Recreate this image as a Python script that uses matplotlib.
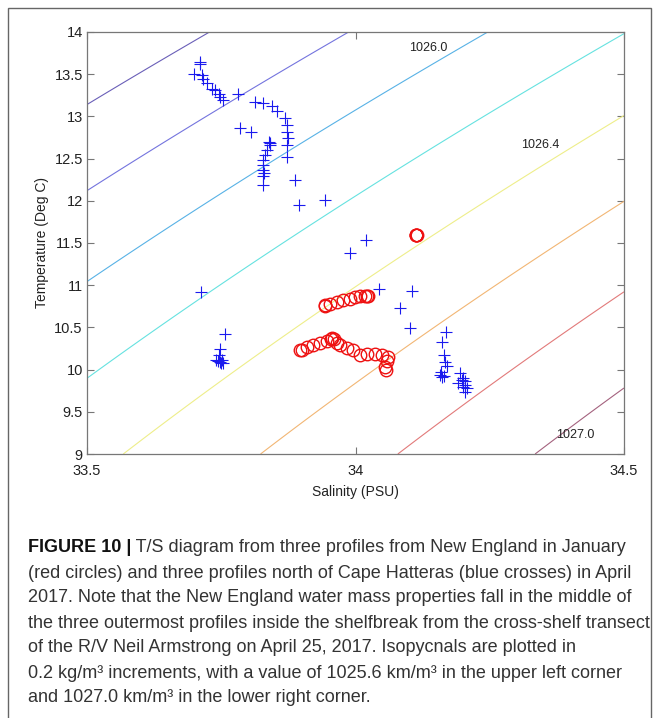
import numpy as np
import matplotlib
matplotlib.use('Agg')
from matplotlib import pyplot as plt
from matplotlib.patches import Rectangle

# three Cape Hatteras profiles, April 2017 (blue crosses)
hat1_sal = [33.710, 33.711, 33.699, 33.714, 33.716, 33.723, 33.732, 33.738, 33.746, 33.748, 33.754,
	33.785, 33.805, 33.713, 33.757, 33.748, 33.746, 33.741, 33.748, 33.754, 33.751, 33.744, 33.750]
hat1_temp = [13.64, 13.62, 13.50, 13.49, 13.44, 13.39, 13.33, 13.31, 13.27, 13.23, 13.19,
	12.86, 12.82, 10.92, 10.42, 10.24, 10.17, 10.11, 10.09, 10.075, 10.11, 10.10, 10.08]

hat2_sal = [33.782, 33.813, 33.828, 33.844, 33.853, 33.869, 33.872, 33.872, 33.875, 33.872, 33.872,
	33.887, 33.894, 33.943, 34.020, 33.990, 34.106, 34.082, 34.101]
hat2_temp = [13.27, 13.17, 13.16, 13.12, 13.06, 12.98, 12.90, 12.82, 12.74, 12.66, 12.52,
	12.25, 11.95, 12.01, 11.54, 11.385, 10.93, 10.73, 10.49]

hat3_sal = [33.838, 33.840, 33.841, 33.835, 33.831, 33.828, 33.827, 33.828, 33.830, 33.828, 33.827,
	34.043, 34.169, 34.162, 34.165, 34.167, 34.170, 34.160, 34.158, 34.162, 34.164,
	34.195, 34.201, 34.191, 34.204, 34.200, 34.207, 34.204, 34.203, 34.198]
hat3_temp = [12.70, 12.69, 12.66, 12.60, 12.54, 12.48, 12.42, 12.36, 12.33, 12.29, 12.19,
	10.95, 10.45, 10.33, 10.17, 10.09, 10.04, 9.975, 9.94, 9.91, 9.93,
	9.96, 9.90, 9.84, 9.86, 9.79, 9.78, 9.74, 9.82, 9.88]

# three New England profiles, January (red circles)
ne1_sal = [34.112, 34.113, 34.114, 34.112]
ne1_temp = [11.60, 11.595, 11.59, 11.60]

ne2_sal = [33.943, 33.944, 33.952, 33.965, 33.977, 33.990, 33.999, 34.008, 34.018, 34.022, 34.024]
ne2_temp = [10.75, 10.76, 10.78, 10.80, 10.82, 10.84, 10.86, 10.87, 10.87, 10.87, 10.875]

ne3_sal = [33.897, 33.900, 33.909, 33.921, 33.934, 33.946, 33.955, 33.957, 33.960, 33.965, 33.971,
	33.984, 33.996, 34.008, 34.022, 34.036, 34.049, 34.061, 34.058, 34.055, 34.057]
ne3_temp = [10.23, 10.232, 10.27, 10.29, 10.31, 10.34, 10.36, 10.37, 10.36, 10.31, 10.29,
	10.25, 10.23, 10.17, 10.19, 10.19, 10.17, 10.15, 10.10, 10.03, 9.995]

iso_levels = [1025.6, 1025.8, 1026.0, 1026.2, 1026.4, 1026.6, 1026.8, 1027.0]
iso_colors = ['#6a5fb8', '#7474de', '#58b2e6', '#66e2e0', '#eeee8a', '#f2b674', '#e27a7a', '#a4627e']
iso_label_text = ['1026.0', '1026.4', '1027.0']
iso_label_sal = [34.135, 34.344, 34.409]
iso_label_temp = [13.81, 12.66, 9.225]

REF_PRES = 88.6 # dbar, pressure the isopycnals seem to be drawn at

cap_bold = 'FIGURE 10 |'
cap_lines = [' T/S diagram from three profiles from New England in January',
	'(red circles) and three profiles north of Cape Hatteras (blue crosses) in April',
	'2017. Note that the New England water mass properties fall in the middle of',
	'the three outermost profiles inside the shelfbreak from the cross-shelf transect',
	'of the R/V Neil Armstrong on April 25, 2017. Isopycnals are plotted in',
	'0.2 kg/m³ increments, with a value of 1025.6 km/m³ in the upper left corner',
	'and 1027.0 km/m³ in the lower right corner.']

def dens(S, T, p): # UNESCO 1980 equation of state, p in dbar
	rw = 999.842594 + 6.793952e-2*T - 9.095290e-3*T**2 + 1.001685e-4*T**3 - 1.120083e-6*T**4 + 6.536332e-9*T**5
	r0 = rw + S*(0.824493 - 4.0899e-3*T + 7.6438e-5*T**2 - 8.2467e-7*T**3 + 5.3875e-9*T**4) \
		+ S**1.5*(-5.72466e-3 + 1.0227e-4*T - 1.6546e-6*T**2) + 4.8314e-4*S**2
	P = p/10.0
	kw = 19652.21 + 148.4206*T - 2.327105*T**2 + 1.360477e-2*T**3 - 5.155288e-5*T**4
	k0 = kw + S*(54.6746 - 0.603459*T + 1.09987e-2*T**2 - 6.1670e-5*T**3) + S**1.5*(7.944e-2 + 1.6483e-2*T - 5.3009e-4*T**2)
	aw = 3.239908 + 1.43713e-3*T + 1.16092e-4*T**2 - 5.77905e-7*T**3
	a = aw + S*(2.2838e-3 - 1.0981e-5*T - 1.6078e-6*T**2) + 1.91075e-4*S**1.5
	bw = 8.50935e-5 - 6.12293e-6*T + 5.2787e-8*T**2
	b = bw + S*(-9.9348e-7 + 2.0816e-8*T + 9.1697e-10*T**2)
	K = k0 + a*P + b*P**2
	return r0/(1 - P/K)

fig = plt.figure(figsize=(6.59, 7.18), dpi=100)
plt.rcParams['font.family'] = ['Liberation Sans', 'DejaVu Sans']
fig.patches.append(Rectangle((8/659, -0.02), 643/659, 0.02 + 1 - 8/718, transform=fig.transFigure,
	fill=False, edgecolor='#666666', linewidth=1.0))

ax = fig.add_axes([87/659, 1 - 454/718, 537/659, 422/718])

ss, tt = np.meshgrid(np.linspace(33.5, 34.5, 200), np.linspace(9, 14, 200))
rho = dens(ss, tt, REF_PRES)
ax.contour(ss, tt, rho, levels=iso_levels, colors=iso_colors, linewidths=0.8)
for txt, s, t in zip(iso_label_text, iso_label_sal, iso_label_temp):
	ax.text(s, t, txt, fontsize=9, ha='center', va='center', color='#222222')

for s, t in [(hat1_sal, hat1_temp), (hat2_sal, hat2_temp), (hat3_sal, hat3_temp)]:
	ax.plot(s, t, '+', color='#1a1aee', markersize=8, markeredgewidth=0.8)
for s, t in [(ne1_sal, ne1_temp), (ne2_sal, ne2_temp), (ne3_sal, ne3_temp)]:
	ax.plot(s, t, 'o', markerfacecolor='none', markeredgecolor='#ee1111', markersize=9, markeredgewidth=1.0)

ax.set_xlim(33.5, 34.5)
ax.set_ylim(9, 14)
ax.set_xticks([33.5, 34, 34.5])
ax.set_xticklabels(['33.5', '34', '34.5'])
ax.set_yticks(np.arange(9, 14.01, 0.5))
ax.set_yticklabels(['9', '9.5', '10', '10.5', '11', '11.5', '12', '12.5', '13', '13.5', '14'])
ax.tick_params(direction='in', top=True, right=True, length=5, width=0.8, colors='#777777',
	labelcolor='#222222', labelsize=10.5, pad=3)
ax.tick_params(axis='x', pad=7)
for sp in ax.spines.values():
	sp.set_color('#777777')
	sp.set_linewidth(0.9)
ax.set_xlabel('Salinity (PSU)', fontsize=10, color='#222222', labelpad=5)
ax.set_ylabel('Temperature (Deg C)', fontsize=10, color='#222222', labelpad=4)

# caption below the plot
cap_font = ['Liberation Sans Narrow', 'Liberation Sans', 'DejaVu Sans']
y0 = 1 - 548/718
dy = 25/718
b = fig.text(28/659, y0, cap_bold, fontsize=13, fontweight='bold', family=cap_font, va='center', color='#111111')
fig.canvas.draw()
bb = b.get_window_extent().transformed(fig.transFigure.inverted())
fig.text(bb.x1, y0, cap_lines[0], fontsize=13, family=cap_font, va='center', color='#333333')
for i, line in enumerate(cap_lines[1:]):
	fig.text(28/659, y0 - (i+1)*dy, line, fontsize=13, family=cap_font, va='center', color='#333333')

fig.savefig('out.png', dpi=100)
